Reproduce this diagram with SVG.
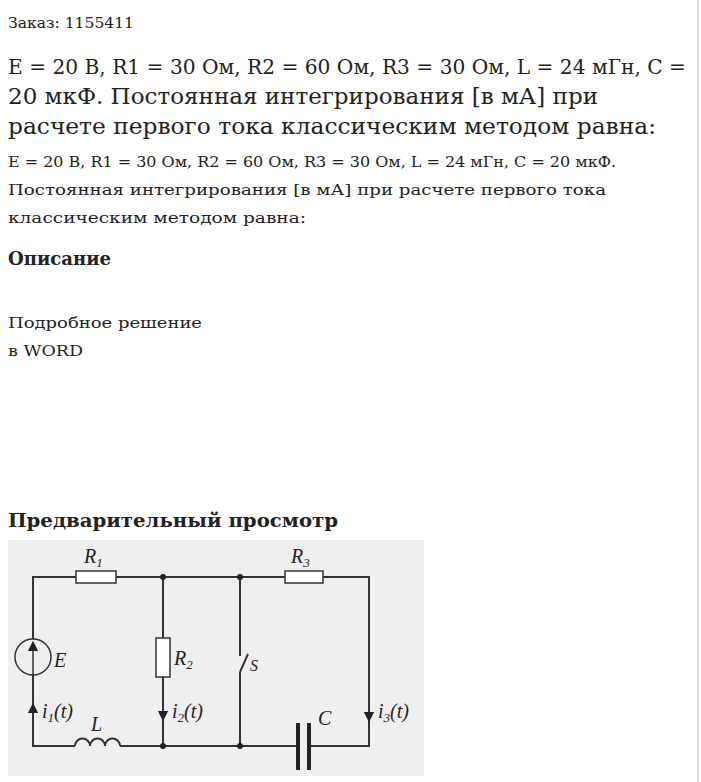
<svg xmlns="http://www.w3.org/2000/svg" width="701" height="782" viewBox="0 0 701 782">
<style>
.t{font-family:"DejaVu Serif","Liberation Serif",serif;fill:#222}
.w{stroke:#333;stroke-width:2;fill:none}
.c{font-family:"Liberation Serif",serif;font-style:italic;fill:#222}
</style>
<defs><marker id="a" viewBox="0 0 10 10" refX="5" refY="5" markerWidth="7" markerHeight="9" orient="auto"><path d="M0,0L10,5L0,10z" fill="#222"/></marker></defs>
<rect width="701" height="782" fill="#fff"/>
<line x1="698" y1="0" x2="698" y2="782" stroke="#ddd" stroke-width="2"/>
<g id="text">
<text class="t" x="8" y="28" font-size="15" textLength="126" lengthAdjust="spacingAndGlyphs">Заказ: 1155411</text>
<text class="t" x="8" y="74" font-size="21" textLength="678" lengthAdjust="spacingAndGlyphs">E = 20 В, R1 = 30 Ом, R2 = 60 Ом, R3 = 30 Ом, L = 24 мГн, С =</text>
<text class="t" x="8" y="104" font-size="22" textLength="590" lengthAdjust="spacingAndGlyphs">20 мкФ. Постоянная интегрирования [в мА] при</text>
<text class="t" x="8" y="134" font-size="22" textLength="648" lengthAdjust="spacingAndGlyphs">расчете первого тока классическим методом равна:</text>
<text class="t" x="8" y="167" font-size="15" textLength="608" lengthAdjust="spacingAndGlyphs">E = 20 В, R1 = 30 Ом, R2 = 60 Ом, R3 = 30 Ом, L = 24 мГн, С = 20 мкФ.</text>
<text class="t" x="8" y="195" font-size="15" textLength="598" lengthAdjust="spacingAndGlyphs">Постоянная интегрирования [в мА] при расчете первого тока</text>
<text class="t" x="8" y="223" font-size="15" textLength="298" lengthAdjust="spacingAndGlyphs">классическим методом равна:</text>
<text class="t" x="8" y="265" font-size="18" font-weight="bold" textLength="103" lengthAdjust="spacingAndGlyphs">Описание</text>
<text class="t" x="8" y="328" font-size="15" textLength="194" lengthAdjust="spacingAndGlyphs">Подробное решение</text>
<text class="t" x="8" y="356" font-size="15" textLength="75" lengthAdjust="spacingAndGlyphs">в WORD</text>
<text class="t" x="8" y="527" font-size="18" font-weight="bold" textLength="330" lengthAdjust="spacingAndGlyphs">Предварительный просмотр</text>
</g>
<rect x="8" y="540" width="416" height="236" fill="#efefef"/>
<g id="connectors" class="w">
<path d="M33,639V577H76M116,577H285M323,577H369V746H309M298,746H120M75,746H33V675"/>
<path d="M163,577V638M163,677V746"/>
<path d="M240,577V656M240,672V746"/>
<path d="M33,720V708" marker-end="url(#a)" stroke-width="1.5"/>
<path d="M163,704V716" marker-end="url(#a)" stroke-width="1.5"/>
<path d="M369,705V717" marker-end="url(#a)" stroke-width="1.5"/>
</g>
<g id="nodes" fill="#222"><circle cx="163" cy="577" r="3"/><circle cx="240" cy="577" r="3"/><circle cx="163" cy="746" r="3"/><circle cx="240" cy="746" r="3"/></g>
<g id="R1"><rect x="76" y="571" width="40" height="12" fill="#fff" stroke="#333" stroke-width="1.5"/><text class="c" x="84" y="563" font-size="20">R<tspan font-size="13" dy="4">1</tspan></text></g>
<g id="R3"><rect x="285" y="571" width="38" height="12" fill="#fff" stroke="#333" stroke-width="1.5"/><text class="c" x="291" y="563" font-size="20">R<tspan font-size="13" dy="4">3</tspan></text></g>
<g id="R2"><rect x="156" y="638" width="14" height="39" fill="#fff" stroke="#333" stroke-width="1.5"/><text class="c" x="174" y="665" font-size="20">R<tspan font-size="13" dy="4">2</tspan></text></g>
<g id="E"><circle cx="33" cy="657" r="18" fill="none" stroke="#333" stroke-width="1.5"/><path d="M33,675V646" stroke="#333" stroke-width="1.5" marker-end="url(#a)"/><text class="c" x="54" y="667" font-size="20">E</text></g>
<g id="S"><path d="M240,672L248,654" stroke="#333" stroke-width="2"/><text class="c" x="250" y="671" font-size="16">S</text></g>
<g id="L"><path d="M75,746a7.5,7.5 0 0 1 15,0a7.5,7.5 0 0 1 15,0a7.5,7.5 0 0 1 15,0" class="w"/><text class="c" x="91" y="731" font-size="20">L</text></g>
<g id="C"><rect x="296" y="723" width="4" height="47" fill="#222"/><rect x="307" y="723" width="4" height="47" fill="#222"/><text class="c" x="318" y="725" font-size="20">C</text></g>
<g id="labels">
<text class="c" x="42" y="718" font-size="20">i<tspan font-size="13" dy="4">1</tspan><tspan dy="-4">(t)</tspan></text>
<text class="c" x="172" y="718" font-size="20">i<tspan font-size="13" dy="4">2</tspan><tspan dy="-4">(t)</tspan></text>
<text class="c" x="378" y="718" font-size="20">i<tspan font-size="13" dy="4">3</tspan><tspan dy="-4">(t)</tspan></text>
</g>
</svg>
